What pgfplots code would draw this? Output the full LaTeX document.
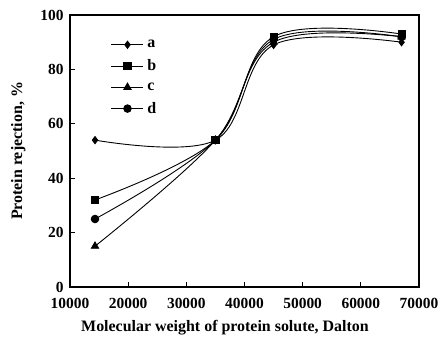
\documentclass[border=0pt]{standalone}
\usepackage{pgfplots}
\pgfplotsset{compat=1.18}
\usepackage{fontspec}
\setmainfont{Liberation Serif}
\begin{document}
\begin{tikzpicture}
\path[use as bounding box] (-70bp,-51bp) rectangle (370bp,287bp);
\begin{axis}[
  at={(0,0)}, anchor=south west,
  scale only axis,
  width=349bp, height=272bp,
  xmin=10000, xmax=70000, ymin=0, ymax=100,
  xtick={10000,20000,...,70000},
  ytick={0,20,...,100},
  scaled ticks=false,
  /pgf/number format/1000 sep={},
  /pgf/number format/assume math mode=true,
  tick align=inside,
  xtick pos=bottom, ytick pos=left,
  major tick length=5bp,
  axis line style={line width=1.1pt},
  tick style={line width=0.8pt, black},
  ticklabel style={font=\fontsize{15.5}{17}\selectfont\bfseries},
  xticklabel style={yshift=-8bp},
  yticklabel style={xshift=-3bp},
  xlabel={Molecular weight of protein solute, Dalton},
  ylabel={Protein rejection, \%},
  label style={font=\fontsize{16}{18}\selectfont\bfseries},
  xlabel style={at={(axis description cs:0.444,-0.150)}, anchor=center},
  ylabel style={at={(axis description cs:-0.148,0.5)}, anchor=center},
  legend style={draw=none, fill=none, inner sep=0pt, at={(axis description cs:0.117,0.915)}, anchor=north west,
    font=\fontsize{16}{18}\selectfont\bfseries, row sep=6.5bp, nodes={inner xsep=3.5bp}},
  legend cell align=left,
  legend image code/.code={\draw[#1, mark repeat=2, mark phase=2] plot coordinates {(0bp,0bp) (16bp,0bp) (32bp,0bp)};},
]
\addplot[black, line width=0.9pt, smooth, tension=0.6, mark=diamond*, mark size=3.6pt, mark options={fill=black, solid}] coordinates {(14300,54) (35000,54) (45000,89) (67000,90)};
\addlegendentry{a}
\addplot[black, line width=0.9pt, smooth, tension=0.6, mark=square*, mark size=3.6pt, mark options={fill=black, solid}] coordinates {(14300,32) (35000,54) (45000,92) (67000,93)};
\addlegendentry{b}
\addplot[black, line width=0.9pt, smooth, tension=0.6, mark=triangle*, mark size=4.2pt, mark options={fill=black, solid}] coordinates {(14300,15) (35000,54) (45000,90) (67000,92)};
\addlegendentry{c}
\addplot[black, line width=0.9pt, smooth, tension=0.6, mark=*, mark size=3.8pt, mark options={fill=black, solid}] coordinates {(14300,25) (35000,54) (45000,91) (67000,92)};
\addlegendentry{d}
\end{axis}
\end{tikzpicture}
\end{document}
